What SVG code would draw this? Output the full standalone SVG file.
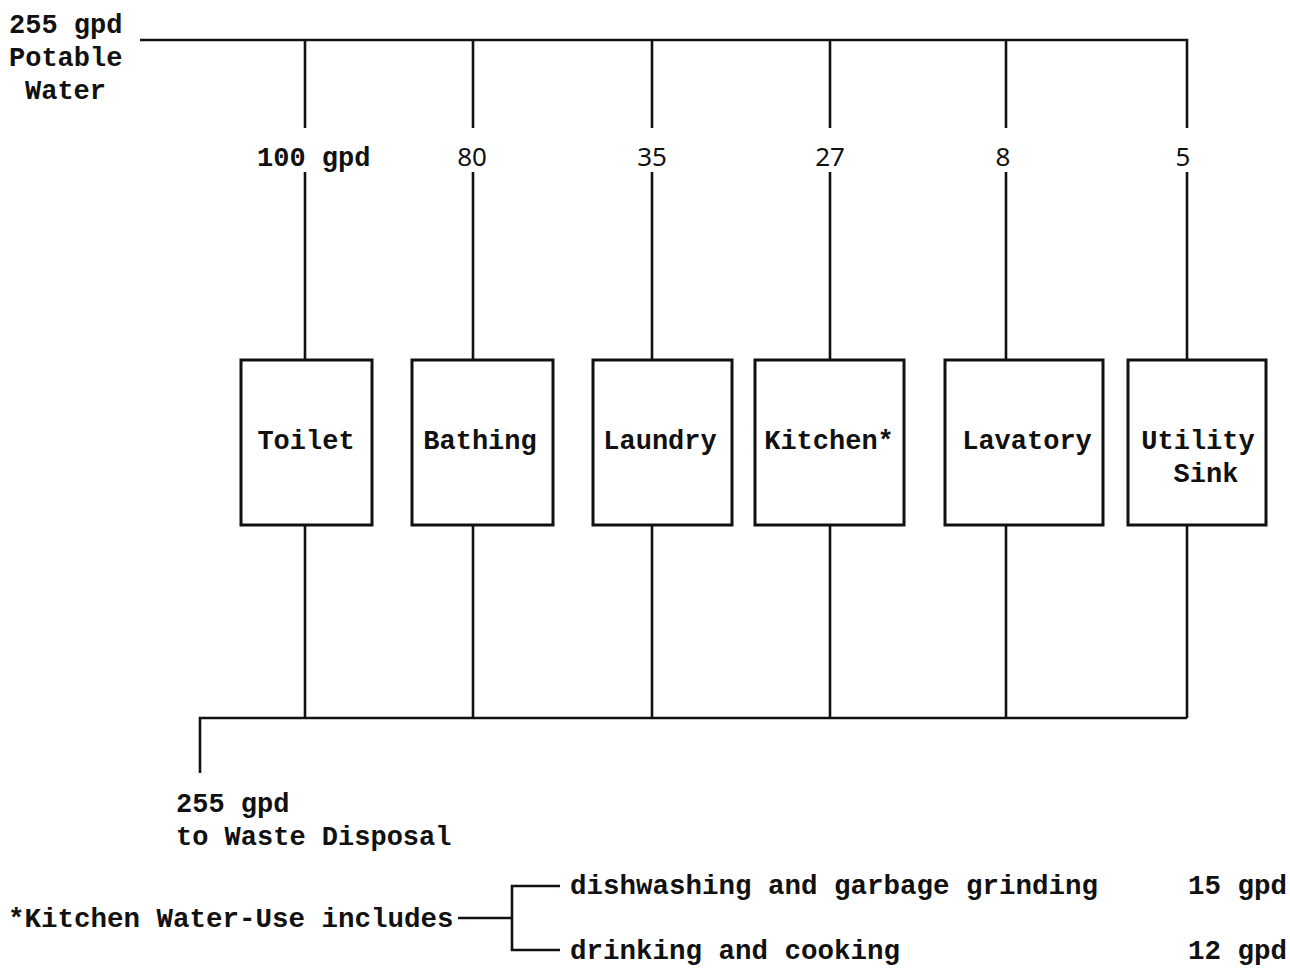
<svg xmlns="http://www.w3.org/2000/svg" width="1290" height="975" viewBox="0 0 1290 975">
<style>
.t{font-family:"Liberation Mono","DejaVu Sans Mono",monospace;font-weight:bold;font-size:27px;fill:#111}
.f{font-size:27.5px}
.n{font-family:"Noto Sans","Liberation Sans",sans-serif;font-size:26px;fill:#111}
.ln{stroke:#111;stroke-width:2.6;fill:none}
.bx{stroke:#111;stroke-width:3;fill:#fff}
</style>
<rect width="1290" height="975" fill="#fff"/>
<g id="connectors">
<path class="ln" d="M140 40 H1187 V128"/>
<path class="ln" d="M305 40 V128 M473 40 V128 M652 40 V128 M830 40 V128 M1006 40 V128"/>
<path class="ln" d="M305 172 V360 M473 172 V360 M652 172 V360 M830 172 V360 M1006 172 V360 M1187 172 V360"/>
<path class="ln" d="M305 525 V718 M473 525 V718 M652 525 V718 M830 525 V718 M1006 525 V718 M1187 525 V718"/>
<path class="ln" d="M1187 718 H200 V773"/>
<path class="ln" d="M458 918 H512 M560 886 H512 V950 H560"/>
</g>
<g id="source">
<text class="t" x="9" y="33">255 gpd</text>
<text class="t" x="9" y="66">Potable</text>
<text class="t" x="25" y="99">Water</text>
</g>
<g id="flows">
<text class="t" x="257" y="166">100 gpd</text>
<text class="n" x="472" y="166" text-anchor="middle">80</text>
<text class="n" x="652" y="166" text-anchor="middle">35</text>
<text class="n" x="830" y="166" text-anchor="middle">27</text>
<text class="n" x="1003" y="166" text-anchor="middle">8</text>
<text class="n" x="1183" y="166" text-anchor="middle">5</text>
</g>
<g id="toilet"><rect class="bx" x="241" y="360" width="131" height="165"/><text class="t" x="306" y="449" text-anchor="middle">Toilet</text></g>
<g id="bathing"><rect class="bx" x="412" y="360" width="141" height="165"/><text class="t" x="480" y="449" text-anchor="middle">Bathing</text></g>
<g id="laundry"><rect class="bx" x="593" y="360" width="139" height="165"/><text class="t" x="660" y="449" text-anchor="middle">Laundry</text></g>
<g id="kitchen"><rect class="bx" x="755" y="360" width="149" height="165"/><text class="t" x="829" y="449" text-anchor="middle">Kitchen*</text></g>
<g id="lavatory"><rect class="bx" x="945" y="360" width="158" height="165"/><text class="t" x="1027" y="449" text-anchor="middle">Lavatory</text></g>
<g id="utility-sink"><rect class="bx" x="1128" y="360" width="138" height="165"/><text class="t" x="1198" y="449" text-anchor="middle">Utility</text><text class="t" x="1206" y="482" text-anchor="middle">Sink</text></g>
<g id="waste">
<text class="t" x="176" y="812">255 gpd</text>
<text class="t" x="176" y="845">to Waste Disposal</text>
</g>
<g id="footnote">
<text class="t f" x="8" y="927">*Kitchen Water-Use includes</text>
<text class="t f" x="570" y="894">dishwashing and garbage grinding</text>
<text class="t f" x="570" y="959">drinking and cooking</text>
<text class="t f" x="1287" y="894" text-anchor="end">15 gpd</text>
<text class="t f" x="1287" y="959" text-anchor="end">12 gpd</text>
</g>
</svg>
